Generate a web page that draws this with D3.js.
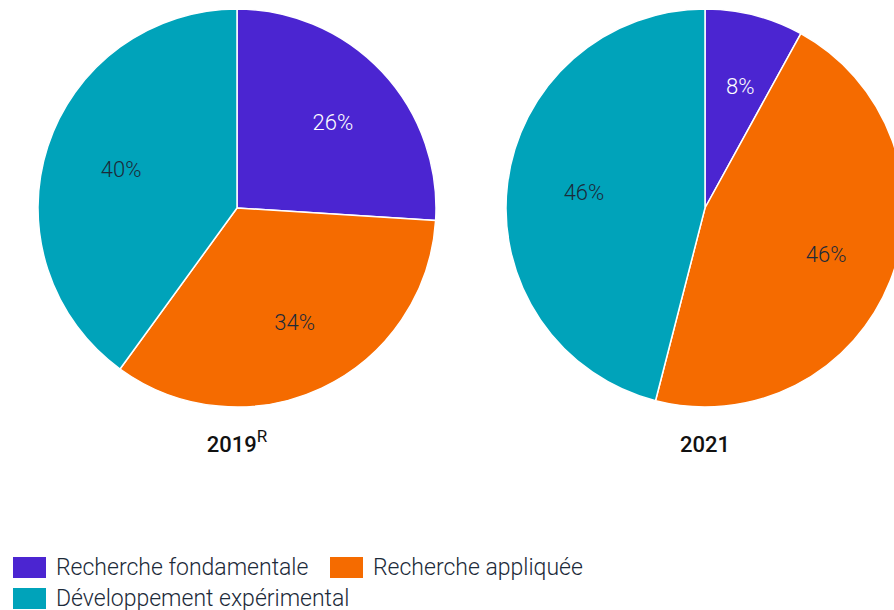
<!DOCTYPE html>
<html>
<head>
<meta charset="utf-8">
<script src="https://cdn.jsdelivr.net/npm/d3@7"></script>
<style>
  body { margin: 0; background: #fff; }
  svg { display: block; font-family: Roboto, "Noto Sans", sans-serif; }
</style>
</head>
<body>
<div id="chart"></div>
<script>
/* DATA */
const categories = ["Recherche fondamentale", "Recherche appliquée", "Développement expérimental"];
const years = ["2019", "2021"];
const yearNotes = ["R", ""];
const values2019 = [26, 34, 40];
const values2021 = [8, 46, 46];

/* CONSTANTS */
const width = 894,
  height = 610,
  radius = 199,
  labelRadius = 126;

const colorScale = d3.scaleOrdinal()
  .domain(categories)
  .range(["#4b25d1", "#f56b00", "#00a3ba"]);

const labelColor = d3.scaleOrdinal()
  .domain(categories)
  .range(["#ffffff", "#1c2a39", "#1c2a39"]);

// pie centers
const xCenter = d3.scalePoint().domain(years).range([237, 705]);
const yCenter = 208;

const svg = d3.select("#chart")
  .append("svg")
  .attr("width", width)
  .attr("height", height);

const pie = d3.pie().sort(null).value(d => d.value);
const arc = d3.arc().innerRadius(0).outerRadius(radius);
const labelArc = d3.arc().innerRadius(labelRadius).outerRadius(labelRadius);

const series = [values2019, values2021];

series.forEach((vals, i) => {
  const data = categories.map((c, j) => ({ category: c, value: vals[j] }));
  const g = svg.append("g")
    .attr("transform", `translate(${xCenter(years[i])}, ${yCenter})`);

  const slices = g.selectAll(".slice")
    .data(pie(data))
    .join("g")
    .attr("class", "slice");

  slices.append("path")
    .attr("d", arc)
    .attr("fill", d => colorScale(d.data.category))
    .attr("stroke", "#ffffff")
    .attr("stroke-width", 1.5);

  slices.append("text")
    .attr("transform", d => {
      const [cx, cy] = labelArc.centroid(d);
      return `translate(${cx + 4}, ${cy})`;
    })
    .attr("text-anchor", "middle")
    .attr("dy", "0.36em")
    .attr("font-size", 22)
    .attr("font-weight", 300)
    .attr("fill", d => labelColor(d.data.category))
    .text(d => d.data.value + "%");

  // year title
  const title = svg.append("text")
    .attr("x", xCenter(years[i]))
    .attr("y", 452)
    .attr("text-anchor", "middle")
    .attr("font-size", 22)
    .attr("font-weight", 500)
    .attr("fill", "#111111")
    .text(years[i]);
  if (yearNotes[i]) {
    title.append("tspan")
      .attr("font-size", 17)
      .attr("font-weight", 400)
      .attr("dy", -10)
      .text(yearNotes[i]);
  }
});

// legend
const legendItems = [
  { cat: categories[0], x: 13, y: 557 },
  { cat: categories[1], x: 330, y: 557 },
  { cat: categories[2], x: 13, y: 588 }
];

const legend = svg.selectAll(".legend")
  .data(legendItems)
  .join("g")
  .attr("class", "legend")
  .attr("transform", d => `translate(${d.x}, ${d.y})`);

legend.append("rect")
  .attr("width", 33)
  .attr("height", 21)
  .attr("fill", d => colorScale(d.cat));

legend.append("text")
  .attr("x", 43)
  .attr("y", 10)
  .attr("dy", "0.36em")
  .attr("font-size", 23)
  .attr("font-weight", 300)
  .attr("fill", "#1c2a39")
  .text(d => d.cat);
</script>
</body>
</html>
